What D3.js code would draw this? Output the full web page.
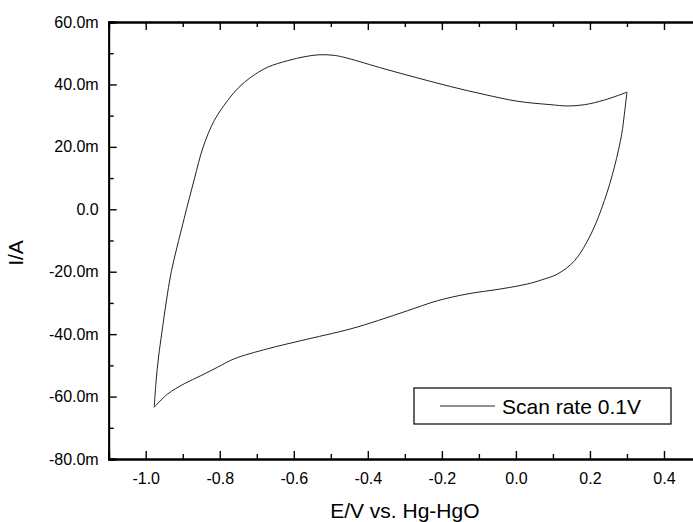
<!DOCTYPE html>
<html>
<head>
<meta charset="utf-8">
<title>CV scan</title>
<script src="https://cdnjs.cloudflare.com/ajax/libs/d3/7.8.5/d3.min.js"></script>
<style>
body { margin: 0; background: #fff; }
text { font-family: "Liberation Sans", Arial, sans-serif; fill: #000; }
</style>
</head>
<body>
<div id="chart"></div>
<script>
// anodic sweep, -0.98 V up to the 0.3 V vertex (current in mA)
var forwardE = [-0.977, -0.972, -0.965, -0.957, -0.945, -0.931, -0.911, -0.890, -0.868,
                -0.845, -0.815, -0.779, -0.748, -0.716, -0.671, -0.617, -0.570, -0.532,
                -0.490, -0.455, -0.356, -0.266, -0.176, -0.086, 0.005, 0.095, 0.140,
                0.185, 0.239, 0.300];
var forwardI = [-63.4, -55.0, -47.0, -40.0, -30.0, -20.0, -10.0, 0.0, 10.0,
                19.9, 28.4, 34.8, 39.1, 42.3, 45.5, 47.6, 48.9, 49.5,
                49.3, 48.4, 45.0, 42.1, 39.3, 36.8, 34.6, 33.5, 33.1,
                33.5, 35.0, 37.5];

// cathodic sweep, back from 0.3 V to -0.98 V
var reverseE = [0.300, 0.293, 0.286, 0.266, 0.239, 0.203, 0.159, 0.113, 0.070, 0.032,
                -0.040, -0.130, -0.212, -0.293, -0.374, -0.446, -0.581, -0.671, -0.761,
                -0.806, -0.851, -0.896, -0.941, -0.977];
var reverseI = [37.5, 30.5, 24.2, 13.5, 2.8, -7.9, -16.4, -20.7, -22.6, -23.9,
                -25.5, -27.1, -29.3, -32.5, -35.7, -38.3, -42.1, -44.7, -47.9,
                -50.6, -53.3, -55.9, -59.2, -63.4];

var xTicks = [-1.0, -0.8, -0.6, -0.4, -0.2, 0.0, 0.2, 0.4];
var yTicks = [-80, -60, -40, -20, 0, 20, 40, 60];
var legendLabel = "Scan rate 0.1V";

var w = 693, h = 522;
var margin = {top: 22, right: -8, bottom: 63, left: 108.7};

var svg = d3.select("#chart").append("svg")
            .attr("width", w)
            .attr("height", h);

var xScale = d3.scaleLinear()
               .domain([-1.1, 0.5])
               .range([margin.left, w - margin.right]);
var yScale = d3.scaleLinear()
               .domain([-80, 60])
               .range([h - margin.bottom, margin.top]);

var minorX = d3.range(-1.1, 0.51, 0.1).filter(function(v) {
    return xTicks.every(function(t) { return Math.abs(t - v) > 1e-6; });
});
var minorY = d3.range(-70, 60, 20);

// plain hyphen, like the original plot
function fmtX(v) { return v.toFixed(1); }
function fmtY(v) { return v === 0 ? "0.0" : v.toFixed(1) + "m"; }

function drawAxis(axis, cls, transform) {
    svg.append("g").attr("class", cls).attr("transform", transform).call(axis);
}

// minor ticks first, then major with labels
drawAxis(d3.axisBottom(xScale).tickValues(minorX).tickSize(-5).tickFormat(""),
         "minor", "translate(0," + yScale(-80) + ")");
drawAxis(d3.axisTop(xScale).tickValues(minorX).tickSize(-5).tickFormat(""),
         "minor", "translate(0," + yScale(60) + ")");
drawAxis(d3.axisLeft(yScale).tickValues(minorY).tickSize(-5).tickFormat(""),
         "minor", "translate(" + xScale(-1.1) + ",0)");
drawAxis(d3.axisRight(yScale).tickValues(minorY).tickSize(-5).tickFormat(""),
         "minor", "translate(" + xScale(0.5) + ",0)");

drawAxis(d3.axisBottom(xScale).tickValues(xTicks).tickSize(-8).tickPadding(14)
           .tickFormat(fmtX),
         "xAxis", "translate(0," + yScale(-80) + ")");
drawAxis(d3.axisTop(xScale).tickValues(xTicks).tickSize(-8).tickFormat(""),
         "xTop", "translate(0," + yScale(60) + ")");
drawAxis(d3.axisLeft(yScale).tickValues(yTicks).tickSize(-8).tickPadding(10)
           .tickFormat(fmtY),
         "yAxis", "translate(" + xScale(-1.1) + ",0)");
drawAxis(d3.axisRight(yScale).tickValues(yTicks).tickSize(-8).tickFormat(""),
         "yRight", "translate(" + xScale(0.5) + ",0)");

svg.selectAll(".domain").attr("stroke", "#000").attr("stroke-width", 1.8);
svg.selectAll(".tick line").attr("stroke", "#000").attr("stroke-width", 1.4);
svg.selectAll(".tick text")
   .attr("font-family", "Liberation Sans, Arial, sans-serif")
   .attr("font-size", "16px")
   .attr("fill", "#000");

// the voltammogram
var line = d3.line()
             .x(function(d) { return xScale(d[0]); })
             .y(function(d) { return yScale(d[1]); })
             .curve(d3.curveCatmullRom.alpha(0.5));

var fwd = forwardE.map(function(e, i) { return [e, forwardI[i]]; });
var rev = reverseE.map(function(e, i) { return [e, reverseI[i]]; });

[fwd, rev].forEach(function(seg) {
    svg.append("path")
       .attr("class", "line")
       .attr("d", line(seg))
       .attr("fill", "none")
       .attr("stroke", "#222")
       .attr("stroke-width", 1);
});

// axis titles
svg.append("text")
   .attr("x", (xScale(-1.1) + xScale(0.5)) / 2)
   .attr("y", 518)
   .attr("text-anchor", "middle")
   .attr("font-size", "21px")
   .text("E/V vs. Hg-HgO");

svg.append("text")
   .attr("transform", "translate(23,253) rotate(-90)")
   .attr("text-anchor", "middle")
   .attr("font-size", "21px")
   .text("I/A");

// legend
var lg = svg.append("g").attr("transform", "translate(414,388)");
lg.append("rect")
  .attr("width", 257)
  .attr("height", 36)
  .attr("fill", "#fff")
  .attr("stroke", "#000")
  .attr("stroke-width", 1.2);
lg.append("line")
  .attr("x1", 26).attr("x2", 81)
  .attr("y1", 18).attr("y2", 18)
  .attr("stroke", "#222")
  .attr("stroke-width", 1);
lg.append("text")
  .attr("x", 88)
  .attr("y", 25.5)
  .attr("font-size", "21px")
  .text(legendLabel);
</script>
</body>
</html>
